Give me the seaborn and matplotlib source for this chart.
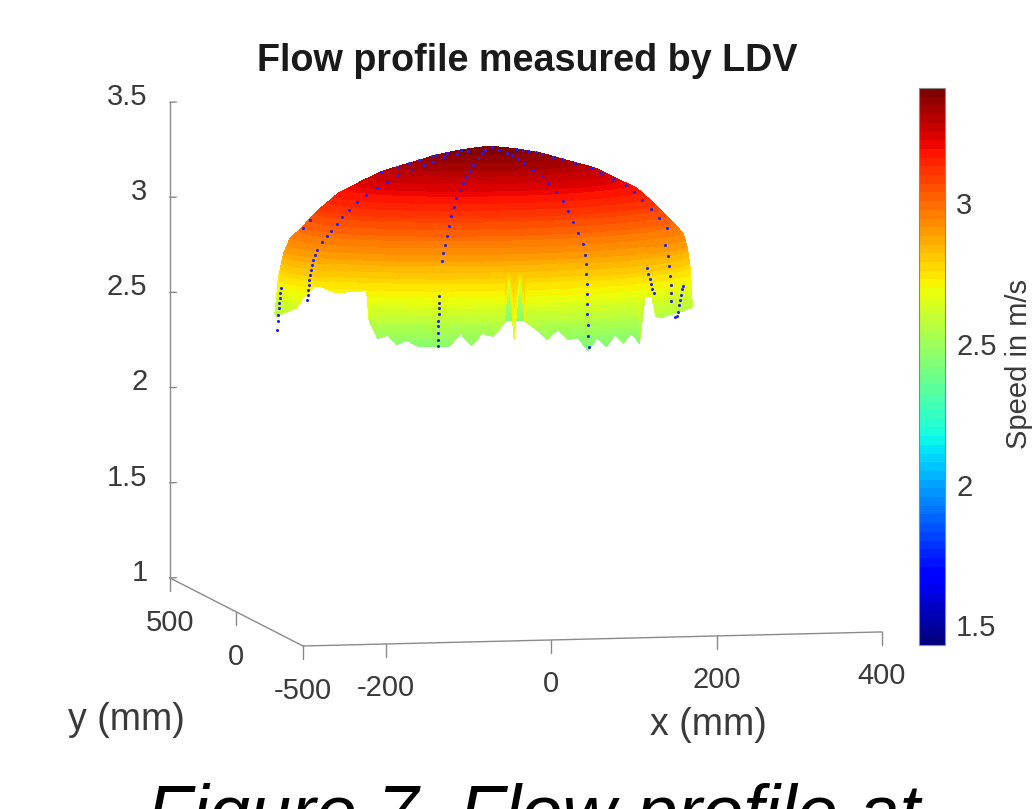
# -*- coding: utf-8 -*-
import numpy as np
import matplotlib
matplotlib.use('Agg')
import matplotlib.pyplot as plt
from matplotlib.cm import ScalarMappable
from matplotlib.colors import Normalize
from mpl_toolkits.mplot3d import proj3d
import seaborn as sns

# ejes
z_ticks = [1, 1.5, 2, 2.5, 3, 3.5]
y_ticks = [-500, 0, 500]
x_ticks = [-200, 0, 200, 400]
bar_ticks = [1.5, 2, 2.5, 3]
speed_min, speed_max = 1.43, 3.41

# anillos del perfil: velocidad, semiejes y centro en mm
ring_speed = [2.345, 2.573, 2.748, 2.87, 2.94, 2.993, 3.089, 3.176, 3.238, 3.287, 3.325, 3.369, 3.395, 3.416]
ring_x_radius = [254, 250, 247, 242, 236, 224, 203, 180, 152, 129, 99, 65, 36, 0]
ring_y_radius = [206, 203, 200, 195, 190, 179, 162, 144, 122, 103, 79, 52, 29, 0]
ring_center_x = [-1, -1, 0, 1, 2, 3, 3, 4, 4, 5, 5, 6, 6, 6]

# borde inferior de la superficie por acimut
rim_angle = [0, 3, 6, 9, 12, 15, 18, 21, 24, 27, 30, 33, 36, 39, 42, 43.5, 46.5, 49.8, 52.8, 55.8, 58.8, 61.8,
             64.8, 67.8, 70.8, 73.8, 76.8, 79.8, 82.8, 86.1, 87.5, 89.1, 90.7, 91.8, 94.8, 97.8, 100.8, 103.8,
             106.8, 109.8, 112.8, 115.8, 118.8, 121.8, 124.8, 127.8, 130.8, 132.3, 134, 138, 141, 144, 147,
             150, 153, 156, 159, 162, 165, 168, 171,
             174, 177, 180, 183, 186, 192, 198, 204, 210, 216, 222, 228, 234, 240, 243, 246, 252, 258,
             270, 285, 300, 315, 320, 327, 333, 339, 345, 351, 357, 360]
rim_speed = [2.546, 2.55, 2.554, 2.558, 2.562, 2.56, 2.56, 2.56, 2.558, 2.555, 2.554, 2.55, 2.548, 2.54,
             2.55, 2.657, 2.66, 2.42, 2.475, 2.427, 2.474, 2.415, 2.462, 2.40, 2.47, 2.462, 2.517, 2.467,
             2.52, 2.567, 2.82, 2.47, 2.82, 2.56, 2.49, 2.508, 2.447, 2.509, 2.443, 2.443, 2.442, 2.442,
             2.473, 2.451, 2.497, 2.479, 2.574, 2.73, 2.724, 2.719, 2.714, 2.71, 2.725, 2.736, 2.733,
             2.70, 2.66, 2.61, 2.599, 2.586, 2.578, 2.567, 2.558, 2.546, 2.55, 2.555, 2.56, 2.56, 2.56,
             2.57, 2.66, 2.74, 2.76, 2.74, 2.72, 2.6, 2.5, 2.44, 2.43, 2.42, 2.42, 2.43, 2.45, 2.5, 2.62,
             2.68, 2.65, 2.56, 2.55, 2.55, 2.546]

# puntos LDV: acimut y velocidad de cada recorrido
ray_a_angle = 110
ray_a_speed = [3.402, 3.39, 3.371, 3.342, 3.319, 3.292, 3.266, 3.233, 3.194, 3.152, 3.109, 3.061, 3.011,
               2.968, 2.926, 2.885, 2.705, 2.671, 2.645, 2.61, 2.576, 2.547, 2.514, 2.477, 2.442]
ray_b_angle = 67.6
ray_b_speed = [3.413, 3.402, 3.39, 3.379, 3.363, 3.344, 3.316, 3.287, 3.253, 3.21, 3.167, 3.117, 3.064,
               3.008, 2.953, 2.90, 2.854, 2.801, 2.75, 2.698, 2.643, 2.59, 2.534, 2.476, 2.42]
ray_c_angle = 156
ray_c_speed = [3.398, 3.386, 3.37, 3.351, 3.335, 3.314, 3.29, 3.258, 3.229, 3.196, 3.161, 3.123, 3.087,
               3.052, 3.017, 2.991, 2.961, 2.921, 2.894, 2.868, 2.842, 2.816, 2.789, 2.763, 2.737,
               2.711, 2.685, 2.659]
ray_d_angle = 198
ray_d_speed = [3.396, 3.381, 3.369, 3.363, 3.343, 3.328, 3.31, 3.283, 3.03, 2.99, 2.675, 2.648, 2.619,
               2.593, 2.567, 2.532, 2.502, 2.453]
ray_e_angle = 345
ray_e_speed = [3.396, 3.39, 3.383, 3.373, 3.364, 3.345, 3.33, 3.308, 3.278, 3.251, 3.215, 3.178, 3.14,
               3.095, 3.048, 3.0, 2.945]
ray_f_angle = 33
ray_f_speed = [2.915, 2.854, 2.802, 2.749, 2.705, 2.661, 2.621]
ray_g_angle = [24, 25, 26, 27, 28, 29, 30, 31]
ray_g_speed = [2.689, 2.671, 2.642, 2.619, 2.59, 2.558, 2.535, 2.531]
ray_h_angle = [45, 44.5, 44, 43.5, 43, 42.5]
ray_h_speed = [2.808, 2.778, 2.75, 2.72, 2.694, 2.673]

sns.set_theme(style='white')
plt.rcParams['font.family'] = ['Liberation Sans', 'DejaVu Sans']
text_color = '#3a3a3a'
line_color = '#8a8a8a'

jet_64 = plt.get_cmap('jet', 64)
norm = Normalize(speed_min, speed_max)


def ring_point(angle, speed):
    # punto del anillo para un acimut y una velocidad
    a = np.interp(speed, ring_speed, ring_x_radius)
    b = np.interp(speed, ring_speed, ring_y_radius)
    c = np.interp(speed, ring_speed, ring_center_x)
    t = np.deg2rad(angle)
    return c + a * np.cos(t), -b * np.sin(t), np.asarray(speed, dtype=float)


fig = plt.figure(figsize=(1036 / 100, 809 / 100), dpi=100)
ax = fig.add_axes([100 / 1036, 5 / 809, 800 / 1036, 800 / 809], projection='3d', proj_type='ortho')
ax.computed_zorder = False
ax.view_init(elev=6.4, azim=-102.3)
ax.set_box_aspect((593, 626, 479))
ax.set_xlim(-300, 400)
ax.set_ylim(-500, 500)
ax.set_zlim(1, 3.5)
ax.set_axis_off()

# colocar la caja 3D sobre los pixeles de la figura
fig.canvas.draw()


def to_px(x, y, z):
    xs, ys, _ = proj3d.proj_transform(x, y, z, ax.get_proj())
    return ax.transData.transform((xs, ys))


p0 = to_px(-300, -500, 1)
p1 = to_px(400, -500, 1)
goal0 = np.array([303, 809 - 646])
goal1 = np.array([882, 809 - 632])
k = np.linalg.norm(goal1 - goal0) / np.linalg.norm(p1 - p0)
new_center = goal0 - (p0 - np.array([500, 405])) * k
ax.set_position([(new_center[0] - 400 * k) / 1036, (new_center[1] - 400 * k) / 809,
                 800 * k / 1036, 800 * k / 809])

# superficie: filas a velocidad fija, recortadas en el borde de cada acimut
rim_t = np.array(rim_angle)
rim_z = np.array(rim_speed)
levels = np.linspace(ring_speed[-1], min(rim_speed), 90)[:, None]
mesh_speed = np.maximum(levels, rim_z[None, :])
mesh_x, mesh_y, mesh_z = ring_point(rim_t[None, :], mesh_speed)
surf = ax.plot_surface(mesh_x, mesh_y, mesh_z, cmap=jet_64, norm=norm, rcount=90, ccount=len(rim_t),
                       shade=False, linewidth=0, antialiased=False, zorder=1)

# puntos LDV
rays = [(ray_a_angle, ray_a_speed), (ray_b_angle, ray_b_speed), (ray_c_angle, ray_c_speed),
        (ray_d_angle, ray_d_speed), (ray_e_angle, ray_e_speed), (ray_f_angle, ray_f_speed),
        (ray_g_angle, ray_g_speed), (ray_h_angle, ray_h_speed)]
for angle, speed in rays:
    rx, ry, rz = ring_point(np.asarray(angle, dtype=float), np.array(speed))
    ax.scatter(rx, ry, rz, s=5, color='#2020ff', linewidths=0, depthshade=False, zorder=3)

# ejes dibujados a mano, como en MATLAB
ax.plot([-300, -300], [500, 500], [1, 3.5], color=line_color, lw=1, zorder=2)
ax.plot([-300, -300], [-500, 500], [1, 1], color=line_color, lw=1, zorder=2)
ax.plot([-300, 400], [-500, -500], [1, 1], color=line_color, lw=1, zorder=2)
for z in z_ticks:
    ax.plot([-300, -292], [500, 500], [z, z], color=line_color, lw=1, zorder=2)
    ax.text(-327, 500, z + 0.03, f'{z:g}', ha='right', va='center', fontsize=21, color=text_color)
for y in y_ticks:
    ax.plot([-300, -300], [y, y], [1, 0.93], color=line_color, lw=1, zorder=2)
    ax.text(-300, y, 0.765, f'{y:g}', ha='center', va='center', fontsize=21, color=text_color)
for x in x_ticks:
    ax.plot([x, x], [-500, -500], [1, 0.93], color=line_color, lw=1, zorder=2)
    ax.text(x, -500, 0.77, f'{x:g}', ha='center', va='center', fontsize=21, color=text_color)

# barra de color
cax = fig.add_axes([919 / 1036, (809 - 645) / 809, 26 / 1036, 557 / 809])
cbar = fig.colorbar(ScalarMappable(norm=norm, cmap=jet_64), cax=cax, ticks=bar_ticks)
cbar.ax.set_yticklabels([f'{t:g}' for t in bar_ticks])
cbar.ax.tick_params(direction='in', length=4, width=0.8, color='#555555', pad=8, labelsize=21,
                    labelcolor=text_color)
cbar.outline.set_edgecolor(line_color)
cbar.outline.set_linewidth(0.8)
cbar.set_label('Speed in m/s', fontsize=21, color=text_color, va='center')
cbar.ax.yaxis.set_label_coords(3.85, 0.505)

# textos
fig.text(527 / 1036, 1 - 61 / 809, 'Flow profile measured by LDV', ha='center', va='center',
         fontsize=27.2, fontweight='bold', color='#1a1a1a')
fig.text(126 / 1036, 1 - 720 / 809, 'y (mm)', ha='center', va='center', fontsize=27, color=text_color)
fig.text(708 / 1036, 1 - 725 / 809, 'x (mm)', ha='center', va='center', fontsize=27, color=text_color)
fig.text(147 / 1036, 1 - 837 / 809, 'Figure 7. Flow profile at', ha='left', va='baseline',
         fontsize=53.3, fontstyle='italic', color='black')

fig.savefig('out.png', dpi=100)
plt.close()
